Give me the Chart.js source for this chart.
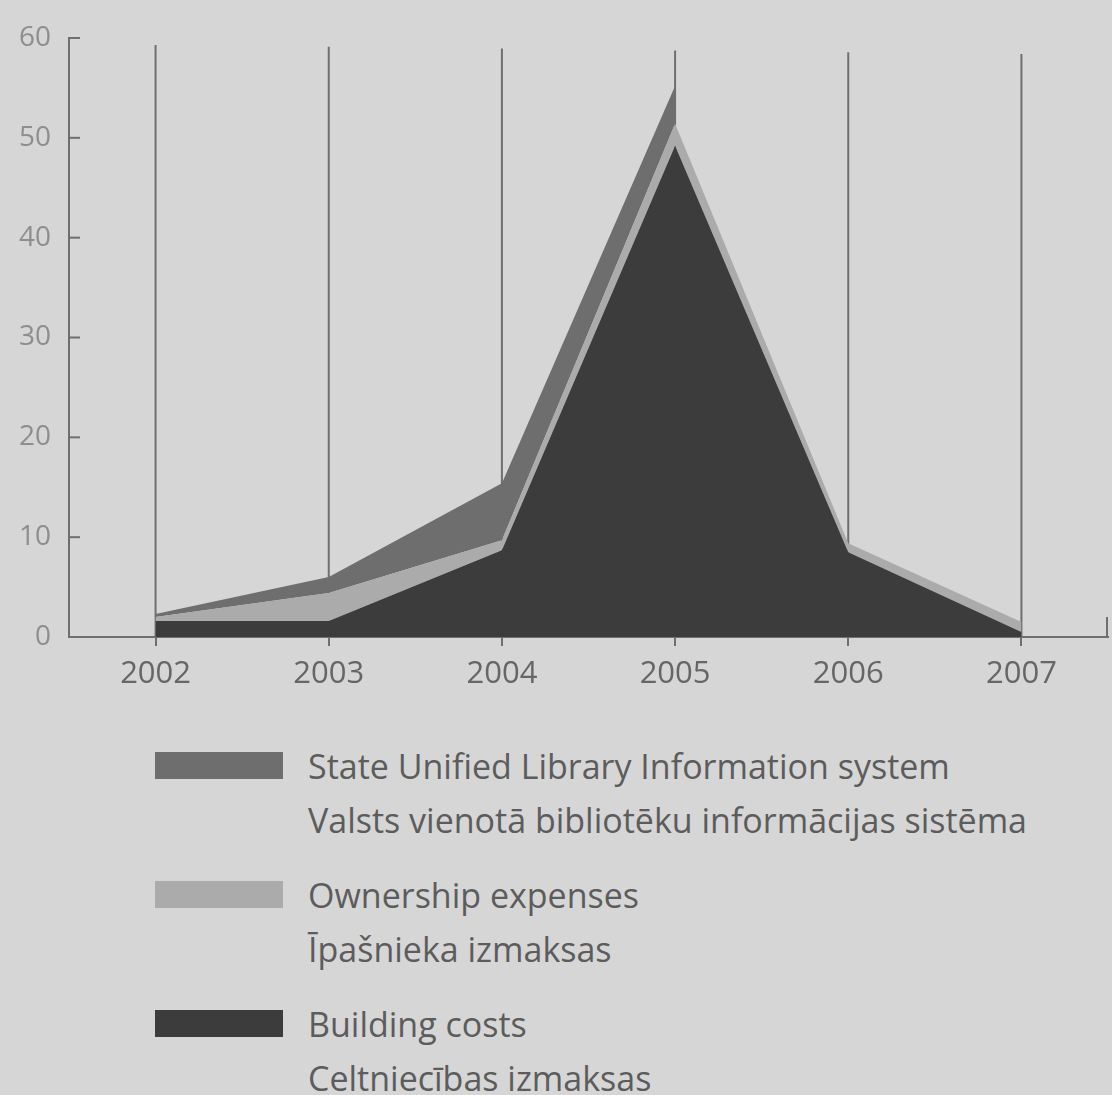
<!DOCTYPE html>
<html>
<head>
<meta charset="utf-8">
<script src="https://cdn.jsdelivr.net/npm/chart.js@4/dist/chart.umd.min.js"></script>
<style>
  body { margin: 0; background: #d6d6d6; width: 1112px; height: 1095px; overflow: hidden; font-family: "Open Sans", sans-serif; }
  #wrap { position: absolute; left: 0; top: 0; width: 1112px; height: 720px; }
  #legend { position: absolute; left: 155px; top: 745px; color: #5c5c5c; font-size: 34px; }
  .item { position: relative; height: 129px; }
  .sw { position: absolute; left: 0; top: 7px; width: 128px; height: 27px; }
  .txt { position: absolute; left: 153px; top: 0; line-height: 54px; margin-top: -6px; white-space: nowrap; }
</style>
</head>
<body>
<div id="wrap"><canvas id="chart"></canvas></div>
<div id="legend"></div>
<script>
// datos
var years = ['2002', '2003', '2004', '2005', '2006', '2007'];
var buildingCosts = [1.6, 1.6, 8.7, 49.2, 8.5, 0.5];
var ownershipExpenses = [0.4, 2.8, 1.0, 2.2, 0.9, 1.0];
var libraryInfoSystem = [0.3, 1.6, 5.7, 3.8, null, null];
var yTicks = [0, 10, 20, 30, 40, 50, 60];

var seriesNames = [
    ['State Unified Library Information system', 'Valsts vienotā bibliotēku informācijas sistēma'],
    ['Ownership expenses', 'Īpašnieka izmaksas'],
    ['Building costs', 'Celtniecības izmaksas']
];
var seriesColors = ['#6e6e6e', '#ababab', '#3c3c3c'];

var axisColor = '#6f6f6f';

// lineas verticales y marcas del eje y hacia dentro
var guidePlugin = {
    id: 'guides',
    beforeDatasetsDraw: function(chart) {
        var ctx = chart.ctx;
        var x = chart.scales.x;
        var y = chart.scales.y;
        ctx.save();
        ctx.strokeStyle = axisColor;
        ctx.lineWidth = 2;
        years.forEach(function(yr, i) {
            var px = x.getPixelForValue(i);
            ctx.beginPath();
            ctx.moveTo(px, y.getPixelForValue(59.3 - i * 0.18));
            ctx.lineTo(px, y.getPixelForValue(0));
            ctx.stroke();
        });
        yTicks.forEach(function(v) {
            var py = y.getPixelForValue(v);
            ctx.beginPath();
            ctx.moveTo(chart.chartArea.left, py);
            ctx.lineTo(chart.chartArea.left + 11, py);
            ctx.stroke();
        });
        // marca final del eje x
        ctx.beginPath();
        ctx.moveTo(chart.chartArea.right - 1, y.getPixelForValue(0));
        ctx.lineTo(chart.chartArea.right - 1, y.getPixelForValue(0) - 20);
        ctx.stroke();
        ctx.restore();
    }
};

var ctx = document.getElementById('chart').getContext('2d');
var chart = new Chart(ctx, {
    type: 'line',
    data: {
        labels: years,
        datasets: [{
            label: seriesNames[2][0],
            data: buildingCosts,
            backgroundColor: seriesColors[2],
            fill: 'origin'
        }, {
            label: seriesNames[1][0],
            data: ownershipExpenses,
            backgroundColor: seriesColors[1],
            fill: '-1'
        }, {
            label: seriesNames[0][0],
            data: libraryInfoSystem,
            backgroundColor: seriesColors[0],
            fill: '-1'
        }]
    },
    options: {
        responsive: true,
        maintainAspectRatio: false,
        animation: false,
        elements: {
            line: { borderWidth: 0, tension: 0 },
            point: { radius: 0 }
        },
        layout: { padding: { top: 38, right: 4, left: 0, bottom: 0 } },
        plugins: {
            legend: { display: false },
            tooltip: { enabled: false }
        },
        scales: {
            x: {
                type: 'category',
                offset: true,
                afterFit: function(scale) { scale.height = 83; },
                grid: {
                    drawOnChartArea: false,
                    drawTicks: true,
                    tickLength: 9,
                    color: axisColor,
                    lineWidth: 2
                },
                border: { display: true, color: axisColor, width: 2 },
                ticks: {
                    color: '#666666',
                    padding: 10,
                    font: { family: 'Open Sans', size: 31 }
                }
            },
            y: {
                stacked: true,
                min: 0,
                max: 60,
                afterFit: function(scale) { scale.width = 69; },
                afterBuildTicks: function(scale) {
                    scale.ticks = yTicks.map(function(v) { return { value: v }; });
                },
                grid: { drawOnChartArea: false, drawTicks: false },
                border: { display: true, color: axisColor, width: 2 },
                ticks: {
                    color: '#8e8e8e',
                    padding: 18,
                    font: { family: 'Open Sans', size: 28 }
                }
            }
        }
    },
    plugins: [guidePlugin]
});

// leyenda
var legend = document.getElementById('legend');
seriesNames.forEach(function(names, i) {
    var item = document.createElement('div');
    item.className = 'item';
    item.innerHTML = '<div class="sw" style="background:' + seriesColors[i] + '"></div>' +
        '<div class="txt">' + names[0] + '<br>' + names[1] + '</div>';
    legend.appendChild(item);
});
</script>
</body>
</html>
